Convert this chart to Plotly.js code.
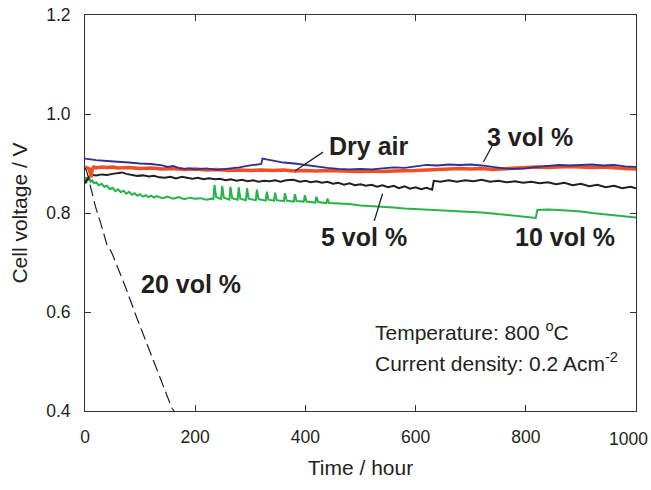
<!DOCTYPE html>
<html>
<head>
<meta charset="utf-8">
<script src="https://cdn.plot.ly/plotly-3.0.1.min.js"></script>
<style>html,body{margin:0;padding:0;background:#fff;}#chart{width:651px;height:490px;}</style>
</head>
<body>
<div id="chart"></div>
<script>
// Dry air (red/orange)
const dryAirT = [0,3,8,11,13,16,20,30,40,50,60,80,100,120,140,160,180,200,220,240,260,280,300,320,340,360,380,400,420,440,460,480,500,520,540,560,580,600,620,640,660,680,700,720,740,760,780,800,820,840,860,880,900,920,940,960,980,1000];
const dryAirV = [0.893,0.891,0.889,0.872,0.888,0.893,0.891,0.893,0.892,0.893,0.891,0.892,0.890,0.891,0.889,0.890,0.888,0.889,0.887,0.888,0.886,0.887,0.886,0.887,0.886,0.887,0.885,0.886,0.885,0.886,0.885,0.885,0.884,0.885,0.884,0.885,0.885,0.886,0.887,0.888,0.889,0.890,0.889,0.890,0.888,0.889,0.891,0.892,0.893,0.892,0.893,0.894,0.893,0.892,0.893,0.891,0.890,0.889];
// 3 vol % (blue)
const vol3T = [0,5,20,40,60,80,100,120,140,150,160,170,180,190,200,220,240,260,280,300,320,322,340,360,380,400,420,440,460,480,500,520,540,560,580,600,620,640,660,680,700,720,740,760,780,800,820,840,860,880,900,920,940,960,980,1000];
const vol3V = [0.910,0.909,0.907,0.905,0.904,0.902,0.900,0.899,0.896,0.893,0.895,0.891,0.889,0.890,0.888,0.890,0.887,0.889,0.892,0.896,0.899,0.910,0.906,0.902,0.900,0.897,0.893,0.891,0.889,0.888,0.889,0.888,0.890,0.892,0.891,0.894,0.897,0.896,0.898,0.897,0.898,0.896,0.893,0.890,0.889,0.890,0.893,0.895,0.897,0.896,0.897,0.898,0.896,0.897,0.894,0.893];
// 5 vol % (black)
const vol5T = [0,4,8,13,20,30,40,50,60,67,75,85,95,105,116,125,135,145,155,165,176,185,195,205,215,225,236,245,255,265,275,285,295,305,315,325,335,345,355,365,378,390,400,410,420,430,440,450,460,470,480,490,500,510,520,530,540,550,560,570,580,590,600,610,620,630,633,645,660,675,690,705,720,735,750,765,780,795,810,825,840,855,870,885,900,915,930,945,960,975,990,1000];
const vol5V = [0.860,0.868,0.874,0.877,0.876,0.878,0.877,0.879,0.880,0.882,0.879,0.877,0.875,0.876,0.874,0.875,0.872,0.871,0.873,0.870,0.873,0.871,0.869,0.871,0.868,0.870,0.868,0.869,0.866,0.868,0.865,0.867,0.864,0.866,0.863,0.865,0.864,0.866,0.863,0.866,0.867,0.863,0.865,0.862,0.864,0.861,0.863,0.859,0.861,0.857,0.860,0.856,0.858,0.855,0.857,0.853,0.856,0.852,0.855,0.850,0.854,0.849,0.852,0.848,0.851,0.847,0.865,0.863,0.866,0.863,0.866,0.864,0.867,0.863,0.865,0.862,0.864,0.861,0.863,0.860,0.862,0.858,0.861,0.856,0.859,0.854,0.857,0.852,0.855,0.850,0.853,0.850];
// 10 vol % (green)
const vol10T = [0,2,4,6,8,10,13,16,20,25,30,35,40,45,50,55,60,65,70,75,80,85,90,95,100,105,110,115,120,125,130,140,150,160,170,180,190,200,210,220,230,
  233,235,238,247,249,252,262,264,267,277,279,282,292,294,297,310,312,315,328,330,333,343,345,348,361,363,366,379,381,384,397,399,402,418,420,423,438,440,443,
  460,480,500,520,540,560,580,600,620,640,660,680,700,720,740,760,780,800,818,821,840,860,880,900,920,940,960,980,1000];
const vol10V = [0.873,0.860,0.872,0.866,0.870,0.862,0.866,0.860,0.862,0.856,0.859,0.853,0.855,0.848,0.851,0.844,0.848,0.842,0.845,0.839,0.843,0.837,0.840,0.835,0.838,0.833,0.836,0.832,0.835,0.831,0.834,0.830,0.833,0.829,0.832,0.828,0.831,0.829,0.830,0.827,0.829,
  0.828,0.857,0.832,0.828,0.855,0.831,0.827,0.853,0.830,0.827,0.852,0.829,0.826,0.850,0.829,0.826,0.847,0.828,0.825,0.843,0.827,0.825,0.841,0.826,0.824,0.840,0.825,0.823,0.838,0.824,0.823,0.836,0.823,0.821,0.833,0.822,0.820,0.829,0.820,
  0.819,0.818,0.815,0.814,0.812,0.811,0.809,0.808,0.806,0.805,0.804,0.803,0.802,0.801,0.799,0.797,0.795,0.793,0.790,0.806,0.807,0.806,0.805,0.803,0.800,0.798,0.796,0.794,0.791];
// 20 vol % (dashed black)
const vol20T = [0,3,7,12,19,27,34,40,46,50,60,75,91,105,116,130,145,158,162];
const vol20V = [0.890,0.885,0.867,0.845,0.813,0.785,0.756,0.735,0.725,0.716,0.688,0.646,0.597,0.557,0.523,0.482,0.440,0.405,0.400];

const xTicks = [0,200,400,600,800,1000];
const xTickText = ['0','200','400','600','800',''];   // last label drawn below as annotation so it stays inside the page
const lastXTickLabel = '1000';
const yTicks = [0.4,0.6,0.8,1.0,1.2];

const FONT = 'Liberation Sans, Arial, Helvetica, sans-serif';
const TXT = '#231f20';

const traces = [
  {x: vol10T, y: vol10V, mode:'lines', name:'10 vol %', line:{color:'#27b34b', width:2}},
  {x: vol5T, y: vol5V, mode:'lines', name:'5 vol %', line:{color:'#231f20', width:2}},
  {x: dryAirT, y: dryAirV, mode:'lines', name:'Dry air', line:{color:'#f04e23', width:3.5}},
  {x: vol3T, y: vol3V, mode:'lines', name:'3 vol %', line:{color:'#2e3192', width:1.8}},
  {x: vol20T, y: vol20V, mode:'lines', name:'20 vol %', line:{color:'#231f20', width:1.2, dash:'12px,5px'}}
];

const axisCommon = {
  showgrid:false, zeroline:false, showline:true, linecolor:'#333', linewidth:1,
  mirror:'ticks', ticks:'inside', ticklen:6, tickcolor:'#333', tickwidth:1,
  tickfont:{family:FONT, size:17.5, color:TXT}
};

const layout = {
  width:651, height:490,
  margin:{l:85, r:15, t:15, b:79},
  paper_bgcolor:'#fff', plot_bgcolor:'#fff',
  showlegend:false,
  font:{family:FONT, color:TXT},
  xaxis: Object.assign({}, axisCommon, {
    range:[0,1000], tickvals:xTicks, ticktext:xTickText,
    ticklabelstandoff:10,
    title:{text:'Time / hour', font:{family:FONT, size:21, color:TXT}, standoff:14}
  }),
  yaxis: Object.assign({}, axisCommon, {
    range:[0.4,1.2], tickvals:yTicks, ticktext:yTicks.map(v=>v.toFixed(1)),
    ticklabelstandoff:10,
    title:{text:'Cell voltage / V', font:{family:FONT, size:21, color:TXT}, standoff:12}
  }),
  shapes:[
    {type:'line', xref:'x', yref:'y', x0:432, y0:0.923, x1:381, y1:0.885, line:{color:TXT, width:1.3}},
    {type:'line', xref:'x', yref:'y', x0:741, y0:0.940, x1:723, y1:0.903, line:{color:TXT, width:1.3}},
    {type:'line', xref:'x', yref:'y', x0:540, y0:0.839, x1:525, y1:0.784, line:{color:TXT, width:1.3}}
  ],
  annotations:[
    {x:1000, y:-0.0707, xref:'x', yref:'paper', xshift:-8, yanchor:'middle', text:lastXTickLabel, showarrow:false, font:{family:FONT, size:17.5, color:TXT}},
    {x:514, y:0.935, xref:'x', yref:'y', text:'<b>Dry air</b>', showarrow:false, font:{family:FONT, size:25, color:TXT}},
    {x:807, y:0.954, xref:'x', yref:'y', text:'<b>3 vol %</b>', showarrow:false, font:{family:FONT, size:25, color:TXT}},
    {x:506, y:0.752, xref:'x', yref:'y', text:'<b>5 vol %</b>', showarrow:false, font:{family:FONT, size:25, color:TXT}},
    {x:871, y:0.752, xref:'x', yref:'y', text:'<b>10 vol %</b>', showarrow:false, font:{family:FONT, size:25, color:TXT}},
    {x:192, y:0.657, xref:'x', yref:'y', text:'<b>20 vol %</b>', showarrow:false, font:{family:FONT, size:25, color:TXT}},
    {x:523, y:0.562, xref:'x', yref:'y', xanchor:'left', text:'Temperature: 800 <sup>o</sup>C', showarrow:false, font:{family:FONT, size:21, color:TXT}},
    {x:523, y:0.500, xref:'x', yref:'y', xanchor:'left', text:'Current density: 0.2 Acm<sup>-2</sup>', showarrow:false, font:{family:FONT, size:21, color:TXT}}
  ]
};

Plotly.newPlot('chart', traces, layout, {displayModeBar:false, staticPlot:true});
</script>
</body>
</html>
